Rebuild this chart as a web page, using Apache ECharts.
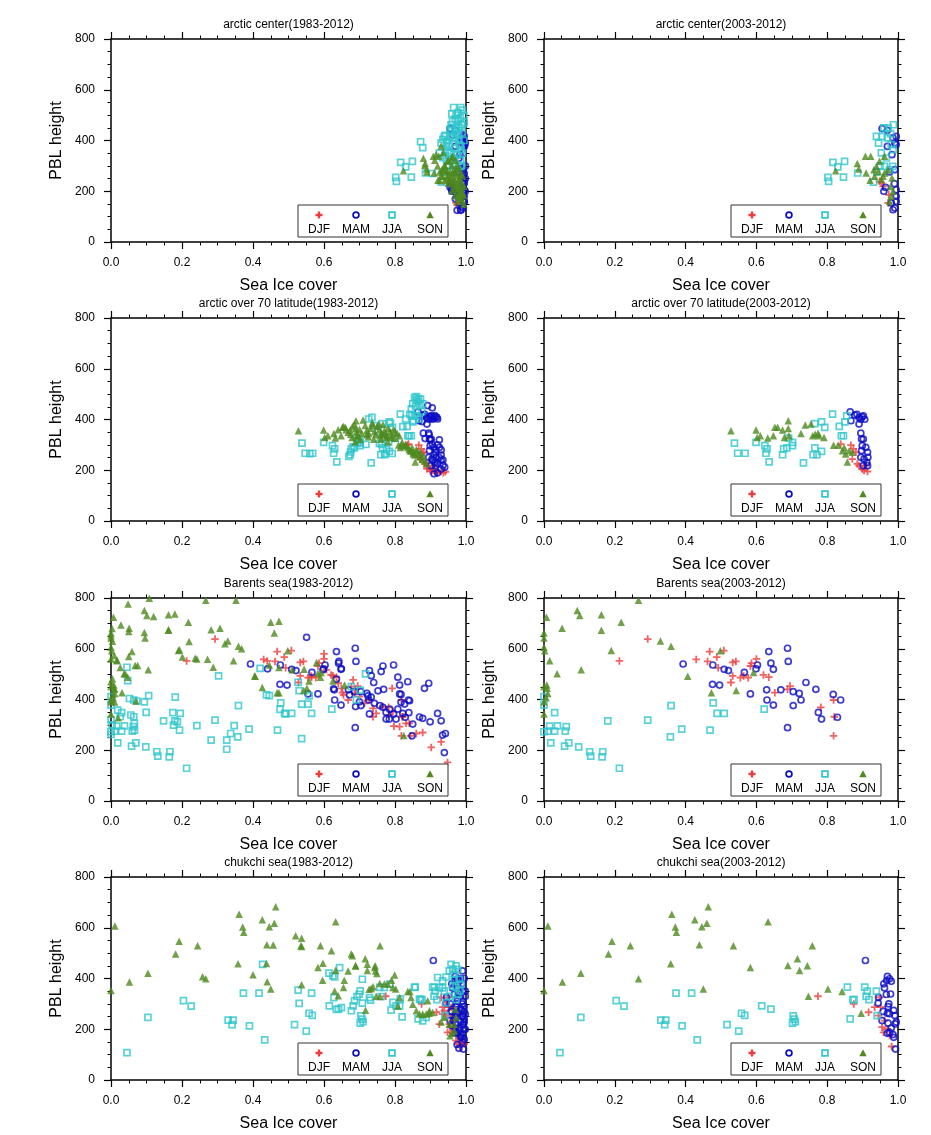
<!DOCTYPE html>
<html>
<head>
<meta charset="utf-8">
<script src="https://cdn.jsdelivr.net/npm/echarts@6/dist/echarts.min.js"></script>
<style>html,body{margin:0;padding:0;background:#fff}#chart{width:931px;height:1135px}</style>
</head>
<body>
<div id="chart"></div>
<script>
// ---------------- labels ----------------
const seasons = ['DJF', 'MAM', 'JJA', 'SON'];
const panelTitles = [
  'arctic center(1983-2012)', 'arctic center(2003-2012)',
  'arctic over 70 latitude(1983-2012)', 'arctic over 70 latitude(2003-2012)',
  'Barents sea(1983-2012)', 'Barents sea(2003-2012)',
  'chukchi sea(1983-2012)', 'chukchi sea(2003-2012)'
];
const xAxisName = 'Sea Ice cover';
const yAxisName = 'PBL height';
const xTickLabels = ['0.0', '0.2', '0.4', '0.6', '0.8', '1.0'];
const yTickLabels = ['0', '200', '400', '600', '800'];

// ---------------- data: [sea ice cover, PBL height] ----------------
// arctic center, 2003-2012
const centerDJF_0312 = [[0.948,239],[0.953,233],[0.972,154],[0.974,186],[0.958,219]];
const centerMAM_0312 = [[0.955,447],[0.970,440],[0.970,377],[0.986,410],[0.991,390],[0.995,416],[0.995,384],[0.983,344],[0.991,285],[0.960,200],[0.995,206],[0.995,180],[0.986,127],[0.991,134],[0.981,154],[0.995,160],[0.976,276],[0.965,215],[0.990,230]];
const centerJJA_0312 = [[0.802,255],[0.804,239],[0.816,314],[0.830,296],[0.849,318],[0.846,256],[0.939,416],[0.945,390],[0.955,416],[0.953,351],[0.967,331],[0.972,449],[0.987,462],[0.979,427],[0.981,384],[0.986,364],[0.931,236],[0.886,272],[0.962,298],[0.976,285],[0.985,298],[0.960,450],[0.970,410],[0.950,300],[0.940,275]];
const centerSON_0312 = [[0.908,338],[0.923,338],[0.885,309],[0.889,288],[0.824,281],[0.910,272],[0.921,243],[0.934,259],[0.939,298],[0.948,318],[0.962,338],[0.962,272],[0.972,285],[0.979,219],[0.983,252],[0.986,200],[0.981,180],[0.976,160],[0.953,246],[0.958,259],[0.944,278],[0.932,285]];
// arctic center, extra points of 1983-2002
const centerDJF_8302 = [[0.975,145],[0.980,162],[0.985,155],[0.970,192],[0.990,175]];
const centerMAM_8302 = [[0.962,422],[0.990,410],[0.995,400],[0.998,390],[0.996,378],[0.992,422],[0.986,290],[0.990,280],[0.995,270],[0.998,250],[0.995,232],[0.990,212],[0.998,200],[0.986,190],[0.976,180],[0.970,170],[0.966,200],[0.960,210],[0.955,216],[0.975,125],[0.985,125],[0.990,140],[0.995,160],[0.998,300],[0.980,330],[0.992,350],[0.988,260],[0.994,240],[0.960,230],[0.970,200]];
const centerJJA_8302 = [[0.872,395],[0.878,372],[0.905,270],[0.930,390],[0.935,405],[0.942,420],[0.948,400],[0.952,380],[0.958,462],[0.962,475],[0.965,530],[0.968,440],[0.972,500],[0.976,480],[0.985,530],[0.990,520],[0.984,490],[0.990,462],[0.975,420],[0.980,400],[0.958,350],[0.948,360],[0.940,340],[0.968,370],[0.984,380],[0.990,430],[0.994,500],[0.995,470],[0.955,440],[0.945,322],[0.935,332],[0.965,330],[0.975,342],[0.990,350],[0.994,400],[0.970,485],[0.960,505],[0.980,452],[0.952,302],[0.988,302],[0.970,305],[0.985,322],[0.978,510],[0.962,410],[0.945,375],[0.925,350]];
const centerSON_8302 = [[0.880,330],[0.884,302],[0.890,276],[0.912,322],[0.916,345],[0.930,378],[0.936,352],[0.920,300],[0.926,276],[0.930,262],[0.940,302],[0.946,282],[0.950,262],[0.955,246],[0.960,232],[0.965,222],[0.970,212],[0.975,202],[0.980,190],[0.985,176],[0.990,162],[0.994,150],[0.960,302],[0.965,282],[0.970,272],[0.975,262],[0.980,250],[0.985,240],[0.990,230],[0.994,220],[0.950,322],[0.960,332],[0.970,322],[0.975,302],[0.980,292],[0.985,272],[0.990,262],[0.946,256],[0.955,276],[0.965,252],[0.975,232],[0.985,212],[0.990,196],[0.994,182],[0.970,182],[0.980,172],[0.960,202],[0.950,232],[0.940,242],[0.936,286],[0.926,242],[0.968,240],[0.978,225],[0.988,190]];

// arctic over 70 latitude, 2003-2012
const o70DJF_0312 = [[0.838,303],[0.867,299],[0.874,284],[0.881,271],[0.871,244],[0.885,225],[0.890,218],[0.899,205],[0.904,199],[0.909,218],[0.914,195]];
const o70MAM_0312 = [[0.865,430],[0.867,395],[0.878,417],[0.890,408],[0.902,414],[0.906,401],[0.895,401],[0.890,382],[0.895,346],[0.897,323],[0.902,323],[0.899,297],[0.909,290],[0.914,271],[0.895,251],[0.904,244],[0.912,231],[0.914,218],[0.902,218],[0.897,277],[0.915,251],[0.884,420],[0.898,410]];
const o70JJA_0312 = [[0.538,307],[0.547,267],[0.568,267],[0.599,310],[0.624,297],[0.630,284],[0.627,267],[0.636,233],[0.674,261],[0.677,284],[0.686,288],[0.691,327],[0.702,310],[0.702,297],[0.733,229],[0.760,261],[0.765,288],[0.771,261],[0.784,274],[0.765,384],[0.784,391],[0.793,369],[0.815,421],[0.834,373],[0.840,336],[0.846,336],[0.850,391],[0.855,414]];
const o70SON_0312 = [[0.528,356],[0.599,359],[0.602,329],[0.611,336],[0.632,327],[0.648,336],[0.652,369],[0.660,369],[0.674,359],[0.679,329],[0.690,395],[0.690,365],[0.692,336],[0.726,345],[0.738,378],[0.754,382],[0.759,336],[0.766,342],[0.774,346],[0.777,336],[0.791,329],[0.818,299],[0.831,299],[0.843,277],[0.848,290],[0.852,264],[0.857,233],[0.862,277],[0.871,271]];
// arctic over 70 latitude, extra points of 1983-2002
const o70DJF_8302 = [[0.835,300],[0.870,252],[0.890,206],[0.900,196],[0.910,200],[0.920,190],[0.930,196],[0.936,190],[0.942,194],[0.886,232],[0.876,266]];
const o70MAM_8302 = [[0.876,392],[0.880,346],[0.885,325],[0.892,455],[0.900,412],[0.905,446],[0.910,406],[0.915,410],[0.920,402],[0.925,320],[0.920,300],[0.925,290],[0.930,280],[0.930,260],[0.935,240],[0.935,220],[0.930,205],[0.920,190],[0.910,186],[0.925,250],[0.915,280],[0.905,302],[0.900,320],[0.896,340],[0.910,262],[0.906,240],[0.920,226],[0.930,240],[0.940,212],[0.918,408],[0.912,415],[0.905,405]];
const o70JJA_8302 = [[0.560,265],[0.670,255],[0.675,272],[0.682,292],[0.695,306],[0.700,318],[0.718,302],[0.726,402],[0.735,408],[0.742,376],[0.752,352],[0.762,302],[0.772,266],[0.776,282],[0.782,312],[0.787,386],[0.792,266],[0.800,326],[0.822,372],[0.830,402],[0.836,336],[0.842,420],[0.846,442],[0.850,462],[0.855,486],[0.860,476],[0.865,470],[0.870,456],[0.875,432],[0.858,452],[0.862,412],[0.848,416],[0.852,396],[0.868,402],[0.860,490],[0.866,482],[0.872,480],[0.878,462],[0.756,306]];
const o70SON_8302 = [[0.655,372],[0.662,360],[0.668,350],[0.675,342],[0.680,372],[0.686,380],[0.692,352],[0.696,336],[0.700,362],[0.706,346],[0.710,398],[0.716,376],[0.720,356],[0.725,332],[0.730,366],[0.736,386],[0.742,352],[0.746,340],[0.750,372],[0.756,360],[0.762,346],[0.766,380],[0.770,356],[0.776,330],[0.780,366],[0.786,352],[0.790,340],[0.796,362],[0.800,326],[0.806,346],[0.810,300],[0.815,290],[0.820,310],[0.825,296],[0.830,302],[0.836,290],[0.840,282],[0.846,276],[0.852,270],[0.856,260],[0.860,282],[0.866,266],[0.870,252],[0.876,242],[0.880,256],[0.884,236],[0.888,226],[0.720,340],[0.702,322],[0.688,312],[0.740,322],[0.760,322],[0.780,312],[0.800,352],[0.812,336],[0.640,360],[0.628,345]];

// Barents sea, 2003-2012
const barDJF_0312 = [[0.213,552],[0.293,638],[0.430,558],[0.462,550],[0.468,589],[0.488,567],[0.492,525],[0.508,593],[0.528,467],[0.533,493],[0.533,546],[0.542,550],[0.555,486],[0.564,493],[0.577,486],[0.583,532],[0.586,543],[0.600,560],[0.620,497],[0.635,488],[0.652,427],[0.688,440],[0.695,453],[0.782,369],[0.818,398],[0.820,332],[0.818,257]];
const barMAM_0312 = [[0.393,540],[0.477,536],[0.476,460],[0.496,457],[0.509,519],[0.521,514],[0.566,507],[0.583,422],[0.599,521],[0.603,536],[0.629,438],[0.630,398],[0.635,589],[0.641,543],[0.648,519],[0.648,378],[0.669,438],[0.688,602],[0.690,550],[0.688,289],[0.704,431],[0.704,376],[0.721,424],[0.726,398],[0.740,467],[0.768,440],[0.775,349],[0.784,323],[0.817,420],[0.829,330],[0.838,398]];
const barJJA_0312 = [[0.000,411],[0.000,378],[0.000,273],[0.016,295],[0.011,275],[0.019,229],[0.030,348],[0.030,275],[0.038,296],[0.058,216],[0.060,275],[0.063,293],[0.070,229],[0.098,213],[0.129,194],[0.132,177],[0.166,194],[0.164,174],[0.180,316],[0.213,129],[0.293,319],[0.357,253],[0.359,376],[0.389,283],[0.469,279],[0.478,387],[0.489,345],[0.509,345],[0.622,362]];
const barSON_0312 = [[0.000,343],[0.000,391],[0.000,451],[0.000,662],[0.000,642],[0.000,606],[0.002,592],[0.007,724],[0.008,457],[0.009,444],[0.011,424],[0.006,407],[0.016,553],[0.037,501],[0.051,681],[0.094,751],[0.101,731],[0.105,517],[0.162,734],[0.162,673],[0.190,593],[0.218,704],[0.267,791],[0.329,631],[0.359,610],[0.406,492],[0.473,427],[0.498,592],[0.543,435],[0.592,506]];
// Barents sea, extra points of 1983-2002
const barDJF_8302 = [[0.565,488],[0.607,517],[0.625,494],[0.640,464],[0.649,444],[0.655,418],[0.668,398],[0.677,451],[0.686,424],[0.700,411],[0.714,385],[0.727,398],[0.738,365],[0.747,345],[0.766,372],[0.783,339],[0.794,352],[0.797,295],[0.792,444],[0.813,293],[0.822,332],[0.831,306],[0.844,257],[0.860,266],[0.878,270],[0.902,211],[0.930,233],[0.948,152],[0.840,306],[0.738,332],[0.682,477],[0.600,580],[0.440,552]];
const barMAM_8302 = [[0.441,521],[0.551,645],[0.555,422],[0.597,517],[0.627,442],[0.635,480],[0.642,550],[0.649,522],[0.672,418],[0.686,431],[0.689,372],[0.700,391],[0.724,414],[0.728,514],[0.733,494],[0.728,343],[0.733,409],[0.742,385],[0.752,434],[0.757,376],[0.766,369],[0.761,510],[0.766,532],[0.775,323],[0.785,362],[0.796,536],[0.796,343],[0.803,323],[0.808,488],[0.813,457],[0.813,422],[0.817,389],[0.822,345],[0.827,382],[0.836,470],[0.839,348],[0.841,395],[0.850,303],[0.848,257],[0.869,331],[0.878,326],[0.883,444],[0.895,464],[0.899,312],[0.920,345],[0.930,316],[0.934,260],[0.942,266],[0.939,191],[0.808,362]];
const barJJA_8302 = [[0.000,262],[0.003,300],[0.000,320],[0.019,358],[0.026,332],[0.045,527],[0.047,474],[0.052,404],[0.064,398],[0.073,394],[0.056,339],[0.064,332],[0.066,306],[0.066,279],[0.094,391],[0.099,349],[0.106,415],[0.148,316],[0.181,409],[0.174,348],[0.176,299],[0.187,312],[0.193,279],[0.195,345],[0.242,297],[0.282,240],[0.303,493],[0.326,204],[0.326,240],[0.337,266],[0.347,297],[0.420,523],[0.438,418],[0.446,415],[0.476,361],[0.492,343],[0.527,468],[0.530,435],[0.537,382],[0.537,246],[0.555,382],[0.558,414],[0.565,345],[0.677,451],[0.691,398],[0.702,437],[0.717,501]];
const barSON_8302 = [[0.003,680],[0.000,652],[0.004,630],[0.000,560],[0.004,482],[0.000,470],[0.010,440],[0.005,420],[0.000,400],[0.010,390],[0.020,328],[0.009,573],[0.017,556],[0.028,694],[0.026,526],[0.031,427],[0.040,501],[0.047,488],[0.048,776],[0.050,668],[0.050,569],[0.059,589],[0.068,534],[0.075,534],[0.070,394],[0.094,664],[0.096,642],[0.108,799],[0.120,727],[0.162,675],[0.180,737],[0.193,596],[0.201,567],[0.220,629],[0.237,563],[0.242,560],[0.272,559],[0.288,527],[0.282,675],[0.307,681],[0.321,620],[0.352,791],[0.345,553],[0.368,600],[0.405,493],[0.426,447],[0.446,536],[0.450,704],[0.460,662],[0.473,708],[0.473,526],[0.468,427],[0.510,517],[0.544,519],[0.552,444],[0.558,473],[0.579,546],[0.583,503],[0.590,488],[0.625,473],[0.658,457],[0.825,258]];

// chukchi sea, 2003-2012
const chuDJF_0312 = [[0.774,330],[0.875,300],[0.917,267],[0.934,287],[0.945,254],[0.951,287],[0.955,208],[0.959,188],[0.962,234],[0.970,201],[0.976,175],[0.982,132],[0.948,326]];
const chuMAM_0312 = [[0.908,471],[0.944,303],[0.945,326],[0.955,234],[0.958,270],[0.960,379],[0.962,363],[0.968,392],[0.970,408],[0.976,399],[0.981,389],[0.967,337],[0.979,339],[0.974,300],[0.972,289],[0.970,263],[0.976,261],[0.988,274],[0.991,254],[0.972,224],[0.976,188],[0.981,205],[0.986,179],[0.988,168],[0.992,221],[0.995,228],[0.993,122],[0.970,184]];
const chuJJA_0312 = [[0.045,108],[0.104,247],[0.204,313],[0.226,291],[0.330,236],[0.344,236],[0.341,218],[0.373,342],[0.390,213],[0.417,342],[0.433,158],[0.517,218],[0.550,193],[0.558,263],[0.567,255],[0.615,292],[0.641,279],[0.704,253],[0.707,240],[0.710,230],[0.702,224],[0.857,366],[0.865,241],[0.872,317],[0.876,317],[0.906,366],[0.913,350],[0.910,330],[0.918,317],[0.939,350],[0.941,254]];
const chuSON_0312 = [[0.000,353],[0.011,607],[0.052,386],[0.104,421],[0.182,497],[0.192,547],[0.244,529],[0.267,399],[0.358,458],[0.361,653],[0.371,603],[0.374,582],[0.426,632],[0.439,533],[0.446,604],[0.450,359],[0.460,618],[0.464,683],[0.535,529],[0.583,443],[0.633,624],[0.689,451],[0.716,478],[0.722,432],[0.744,450],[0.747,330],[0.758,529],[0.802,359],[0.842,349],[0.896,263]];
// chukchi sea, extra points of 1983-2002
const chuDJF_8302 = [[0.930,325],[0.934,260],[0.939,273],[0.953,220],[0.958,247],[0.972,155],[0.977,142],[0.986,161],[0.990,148],[0.995,142],[0.967,207],[0.948,188],[0.925,220],[0.944,306],[0.958,286]];
const chuMAM_8302 = [[0.990,430],[0.995,400],[0.990,380],[0.998,350],[0.985,330],[0.990,310],[0.995,290],[0.985,280],[0.980,265],[0.990,250],[0.995,240],[0.985,230],[0.990,215],[0.995,200],[0.980,195],[0.990,185],[0.985,170],[0.995,160],[0.990,150],[0.975,140],[0.980,125],[0.970,250],[0.965,235],[0.960,270],[0.955,300],[0.975,310],[0.980,345],[0.975,360],[0.960,215],[0.970,205],[0.990,300],[0.995,270],[0.990,350],[0.985,400],[0.998,330],[0.998,260],[0.998,200]];
const chuJJA_8302 = [[0.427,456],[0.527,354],[0.530,302],[0.565,342],[0.614,421],[0.625,410],[0.630,406],[0.644,443],[0.628,325],[0.635,278],[0.649,285],[0.677,273],[0.682,292],[0.686,312],[0.693,329],[0.699,338],[0.702,351],[0.708,303],[0.708,397],[0.728,325],[0.731,315],[0.761,329],[0.757,365],[0.770,365],[0.785,378],[0.789,275],[0.794,306],[0.803,292],[0.813,292],[0.815,320],[0.820,249],[0.855,365],[0.869,319],[0.878,233],[0.888,247],[0.911,365],[0.920,404],[0.925,365],[0.934,391],[0.944,406],[0.953,430],[0.958,456],[0.963,437],[0.967,417],[0.972,450],[0.977,435],[0.981,397],[0.986,378],[0.983,351],[0.972,365],[0.967,396],[0.963,370],[0.977,337],[0.972,317],[0.953,330],[0.944,304],[0.934,363]];
const chuSON_8302 = [[0.258,407],[0.400,415],[0.440,387],[0.438,459],[0.457,532],[0.520,568],[0.537,559],[0.537,526],[0.537,375],[0.590,529],[0.596,393],[0.597,460],[0.621,509],[0.633,433],[0.630,351],[0.640,332],[0.655,365],[0.657,393],[0.668,430],[0.677,497],[0.680,490],[0.689,449],[0.717,275],[0.722,456],[0.727,358],[0.733,361],[0.738,367],[0.743,443],[0.745,430],[0.749,420],[0.757,380],[0.758,329],[0.770,378],[0.780,378],[0.790,393],[0.794,365],[0.799,414],[0.808,292],[0.813,325],[0.836,349],[0.845,325],[0.850,299],[0.860,273],[0.869,260],[0.878,260],[0.888,260],[0.892,312],[0.897,273],[0.906,266],[0.930,229],[0.939,247],[0.953,220],[0.955,174],[0.961,184],[0.967,194],[0.967,220],[0.972,247],[0.970,279]];

const panelData = [
  [centerDJF_0312.concat(centerDJF_8302), centerMAM_0312.concat(centerMAM_8302), centerJJA_0312.concat(centerJJA_8302), centerSON_0312.concat(centerSON_8302)],
  [centerDJF_0312, centerMAM_0312, centerJJA_0312, centerSON_0312],
  [o70DJF_0312.concat(o70DJF_8302), o70MAM_0312.concat(o70MAM_8302), o70JJA_0312.concat(o70JJA_8302), o70SON_0312.concat(o70SON_8302)],
  [o70DJF_0312, o70MAM_0312, o70JJA_0312, o70SON_0312],
  [barDJF_0312.concat(barDJF_8302), barMAM_0312.concat(barMAM_8302), barJJA_0312.concat(barJJA_8302), barSON_0312.concat(barSON_8302)],
  [barDJF_0312, barMAM_0312, barJJA_0312, barSON_0312],
  [chuDJF_0312.concat(chuDJF_8302), chuMAM_0312.concat(chuMAM_8302), chuJJA_0312.concat(chuJJA_8302), chuSON_0312.concat(chuSON_8302)],
  [chuDJF_0312, chuMAM_0312, chuJJA_0312, chuSON_0312]
];

// ---------------- styling / layout ----------------
const FONT = "'Liberation Sans', Arial, Helvetica, sans-serif";
const RED = '#ee3b3b', BLUE = '#0c0cc4', CYAN = '#2fc6cc', GREEN = '#4e8a1e';
const gridLefts = [111, 544], gridWidths = [355, 354];
const gridTops = [39, 318, 598, 877], gridHeight = 203;
const PLUS = 'path://M0,3.8H10V6.2H0Z M3.8,0H6.2V10H3.8Z';
const seasonStyle = {
  DJF: {symbol: PLUS, symbolSize: 7.5, itemStyle: {color: RED}},
  MAM: {symbol: 'circle', symbolSize: 6, itemStyle: {color: 'rgba(0,0,0,0)', borderColor: BLUE, borderWidth: 1.7}},
  JJA: {symbol: 'rect', symbolSize: 6, itemStyle: {color: 'rgba(0,0,0,0)', borderColor: CYAN, borderWidth: 1.7}},
  SON: {symbol: 'triangle', symbolSize: 7.5, itemStyle: {color: GREEN}}
};

const grids = [], xAxes = [], yAxes = [], series = [], titles = [], graphics = [];
const axisLineStyle = {color: '#000', width: 1.5};
const tickCfg = {show: true, inside: false, length: 7, lineStyle: {color: '#000', width: 1.2}};
const minorCfg = {show: true, splitNumber: 4, length: 3.5, lineStyle: {color: '#000', width: 1}};

for (let p = 0; p < 8; p++) {
  const col = p % 2, row = Math.floor(p / 2);
  const L = gridLefts[col], T = gridTops[row], W = gridWidths[col], H = gridHeight;
  grids.push({left: L, top: T, width: W, height: H, containLabel: false});

  xAxes.push({
    type: 'value', gridIndex: p, position: 'bottom', min: 0, max: 1, interval: 0.2,
    axisLine: {show: true, onZero: false, lineStyle: axisLineStyle},
    axisTick: tickCfg, minorTick: minorCfg, splitLine: {show: false}, minorSplitLine: {show: false},
    axisLabel: {show: true, margin: 15, fontSize: 12, color: '#000', fontFamily: FONT,
      formatter: v => xTickLabels[Math.round(v / 0.2)]},
    name: xAxisName, nameLocation: 'middle', nameGap: 36, nameMoveOverlap: false,
    nameTextStyle: {fontSize: 16, color: '#000', fontFamily: FONT}
  });
  xAxes.push({
    type: 'value', gridIndex: p, position: 'top', min: 0, max: 1, interval: 0.2,
    axisLine: {show: true, onZero: false, lineStyle: axisLineStyle},
    axisTick: tickCfg, minorTick: minorCfg, splitLine: {show: false}, axisLabel: {show: false}
  });
  yAxes.push({
    type: 'value', gridIndex: p, position: 'left', min: 0, max: 800, interval: 200,
    axisLine: {show: true, onZero: false, lineStyle: axisLineStyle},
    axisTick: tickCfg, minorTick: minorCfg, splitLine: {show: false}, minorSplitLine: {show: false},
    axisLabel: {show: true, margin: 16, fontSize: 12, color: '#000', fontFamily: FONT,
      formatter: v => yTickLabels[Math.round(v / 200)]},
    name: yAxisName, nameLocation: 'middle', nameGap: 46, nameMoveOverlap: false,
    nameTextStyle: {fontSize: 16, color: '#000', fontFamily: FONT}
  });
  yAxes.push({
    type: 'value', gridIndex: p, position: 'right', min: 0, max: 800, interval: 200,
    axisLine: {show: true, onZero: false, lineStyle: axisLineStyle},
    axisTick: tickCfg, minorTick: minorCfg, splitLine: {show: false}, axisLabel: {show: false}
  });

  titles.push({
    text: panelTitles[p], left: L + W / 2, top: T - 20, textAlign: 'center', padding: 0,
    textStyle: {fontSize: 12, fontWeight: 'normal', color: '#000', fontFamily: FONT}
  });

  seasons.forEach((s, k) => {
    series.push(Object.assign({
      type: 'scatter', name: s, xAxisIndex: 2 * p, yAxisIndex: 2 * p,
      data: panelData[p][k], clip: false, silent: true, animation: false
    }, JSON.parse(JSON.stringify(seasonStyle[s]))));
  });

  // legend box (marker above label, as in the original)
  const bx = L + 187, by = T + 166;
  graphics.push({type: 'rect', z: 50, shape: {x: bx, y: by, width: 150, height: 32},
    style: {fill: '#fff', stroke: '#333', lineWidth: 1}});
  const mx = [21, 58, 94, 132];
  seasons.forEach((s, k) => {
    const cx = bx + mx[k], cy = by + 10;
    if (s === 'DJF') {
      graphics.push({type: 'rect', z: 51, shape: {x: cx - 3.5, y: cy - 1.2, width: 7, height: 2.4}, style: {fill: RED}});
      graphics.push({type: 'rect', z: 51, shape: {x: cx - 1.2, y: cy - 3.5, width: 2.4, height: 7}, style: {fill: RED}});
    } else if (s === 'MAM') {
      graphics.push({type: 'circle', z: 51, shape: {cx: cx, cy: cy, r: 2.9}, style: {fill: 'none', stroke: BLUE, lineWidth: 1.7}});
    } else if (s === 'JJA') {
      graphics.push({type: 'rect', z: 51, shape: {x: cx - 2.9, y: cy - 2.9, width: 5.8, height: 5.8}, style: {fill: 'none', stroke: CYAN, lineWidth: 1.7}});
    } else {
      graphics.push({type: 'polygon', z: 51, shape: {points: [[cx, cy - 3.7], [cx + 3.7, cy + 3.2], [cx - 3.7, cy + 3.2]]}, style: {fill: GREEN}});
    }
    graphics.push({type: 'text', z: 51, x: cx, y: by + 24.5,
      style: {text: s, fontSize: 12, fontFamily: FONT, fill: '#000', align: 'center', verticalAlign: 'middle'}});
  });
}

const chart = echarts.init(document.getElementById('chart'), null, {renderer: 'canvas'});
chart.setOption({
  backgroundColor: '#fff',
  animation: false,
  title: titles,
  grid: grids,
  xAxis: xAxes,
  yAxis: yAxes,
  series: series,
  graphic: graphics
});
</script>
</body>
</html>
